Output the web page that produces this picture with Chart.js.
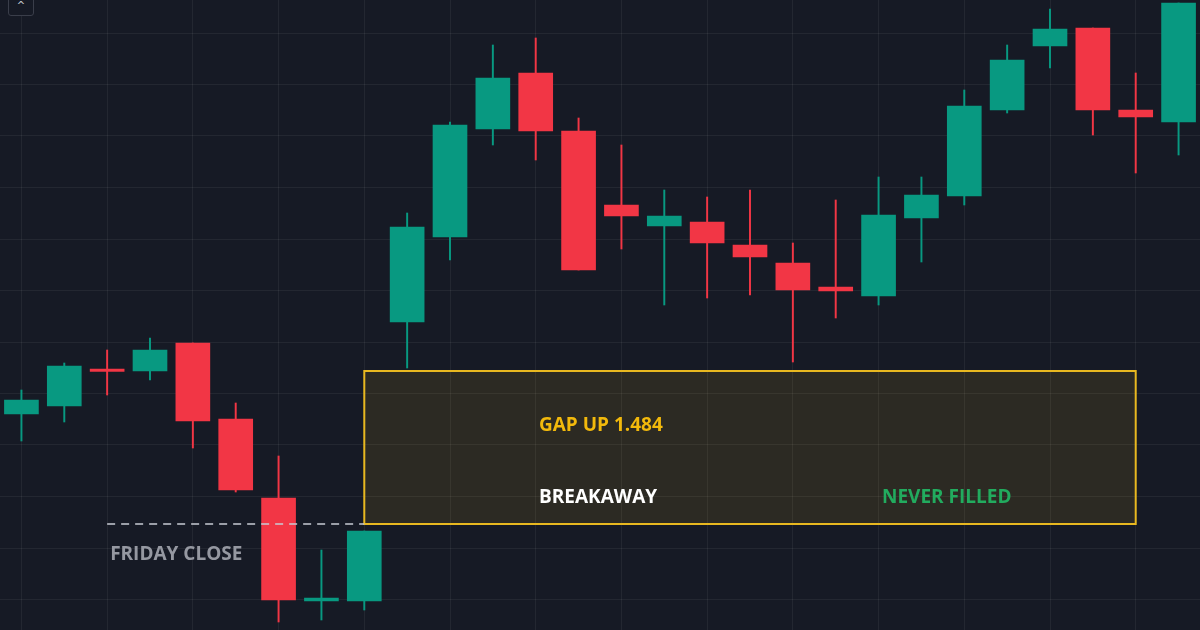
<!DOCTYPE html>
<html><head><meta charset="utf-8">
<script src="https://cdn.jsdelivr.net/npm/chart.js@4"></script>
<style>
html,body{margin:0;padding:0;background:#161a25;width:1200px;height:630px;overflow:hidden}
#wrap{position:relative;width:1200px;height:630px}
#btn{position:absolute;left:8px;top:-1px;width:24px;height:15px;border:1px solid #3a3e4a;border-radius:0 0 3px 3px;color:#c8cbd3;font:10px "DejaVu Sans";text-align:center;line-height:12px;background:#161a25;z-index:2}
</style></head>
<body><div id="wrap"><div id="btn">^</div><canvas id="c" width="1200" height="630"></canvas></div>
<script>
const categories = Array.from({length:28},(_,i)=>'C'+(i+1));
const opens  = [2.16,2.24,2.61,2.59,2.87,2.11,1.32,0.29,0.29,3.08,3.93,5.01,5.57,4.99,4.25,4.04,4.08,3.85,3.67,3.43,3.34,4.12,4.34,5.20,5.84,6.02,5.20,5.08];
const highs  = [2.40,2.67,2.80,2.92,2.87,2.27,1.74,0.80,0.99,4.17,5.08,5.85,5.92,5.12,4.85,4.40,4.33,4.40,3.87,4.30,4.53,4.53,5.40,5.85,6.21,6.02,5.57,6.27];
const lows   = [1.89,2.08,2.35,2.50,1.82,1.38,0.08,0.10,0.20,2.62,3.70,4.85,4.70,3.60,3.81,3.25,3.32,3.35,2.68,3.12,3.25,3.68,4.25,5.17,5.62,4.95,4.57,4.75];
const closes = [2.30,2.64,2.60,2.80,2.09,1.40,0.30,0.32,0.99,4.03,5.05,5.52,4.99,3.60,4.14,4.14,3.87,3.73,3.40,3.39,4.15,4.35,5.24,5.70,6.01,5.20,5.13,6.27];
const gapLabel = 'GAP UP 1.484';
const gapLow = 1.06, gapHigh = 2.59, gapStart = 8, gapEnd = 26;
const fridayClose = 1.06, fridayStart = 2;

const UP='#089981', DN='#f23645';
const col = opens.map((o,i)=> closes[i]>=o ? UP : DN);
const hTicks = [5.97,5.455,4.94,4.425,3.91,3.395,2.88,2.365,1.85,1.335,0.82,0.305];

const overlay = {
  id:'overlay',
  beforeDatasetsDraw(ch){
    const {ctx,scales:{x,y}} = ch;
    const x0=x.getPixelForValue(gapStart), x1=x.getPixelForValue(gapEnd);
    const y0=y.getPixelForValue(gapHigh), y1=y.getPixelForValue(gapLow);
    ctx.save();
    ctx.fillStyle='rgba(242,190,20,0.10)';
    ctx.fillRect(x0,y0,x1-x0,y1-y0);
    ctx.restore();
  },
  afterDatasetsDraw(ch){
    const {ctx,scales:{x,y}} = ch;
    const x0=x.getPixelForValue(gapStart), x1=x.getPixelForValue(gapEnd);
    const y0=y.getPixelForValue(gapHigh), y1=y.getPixelForValue(gapLow);
    ctx.save();
    ctx.strokeStyle='#e8b820'; ctx.lineWidth=2;
    ctx.strokeRect(x0,y0,x1-x0,y1-y0);
    const yf=y.getPixelForValue(fridayClose);
    ctx.strokeStyle='#c8cbd3'; ctx.lineWidth=1.5; ctx.setLineDash([8,6]);
    ctx.beginPath(); ctx.moveTo(x.getPixelForValue(fridayStart),yf); ctx.lineTo(x0,yf); ctx.stroke();
    ctx.setLineDash([]);
    ctx.font='bold 19px "Open Sans", "DejaVu Sans", sans-serif';
    ctx.textBaseline='middle';
    ctx.fillStyle='#9598a1';
    ctx.fillText('FRIDAY CLOSE', x.getPixelForValue(fridayStart)+3, yf+31);
    ctx.fillStyle='#f2b90c';
    ctx.fillText(gapLabel, 539, y0+55);
    ctx.fillStyle='#ffffff';
    ctx.fillText('BREAKAWAY', 539, y0+127);
    ctx.fillStyle='#22ab5e';
    ctx.fillText('NEVER FILLED', 882, y0+127);
    ctx.restore();
  }
};

new Chart(document.getElementById('c'),{
  type:'bar',
  data:{labels:categories,datasets:[
    {data:lows.map((l,i)=>[l,highs[i]]),backgroundColor:col,barThickness:1.3,grouped:false,order:2},
    {data:opens.map((o,i)=>{let c=closes[i]; if(Math.abs(c-o)<0.02) c=o+(c>=o?0.025:-0.025); return [o,c];}),backgroundColor:col,barThickness:34,grouped:false,order:1}
  ]},
  options:{
    responsive:false,animation:false,
    layout:{padding:0},
    plugins:{legend:{display:false},tooltip:{enabled:false}},
    scales:{
      x:{display:true,offset:true,ticks:{display:false},border:{display:false},
         grid:{offset:false,drawTicks:false,color:(c)=>c.index%2===0?'rgba(255,255,255,0.06)':'transparent'}},
      y:{display:true,min:0,max:6.3,ticks:{display:false},border:{display:false},
         afterBuildTicks:(s)=>{s.ticks=hTicks.map(v=>({value:v}));},
         grid:{drawTicks:false,color:'rgba(255,255,255,0.06)'}}
    }
  },
  plugins:[overlay]
});
</script></body></html>
